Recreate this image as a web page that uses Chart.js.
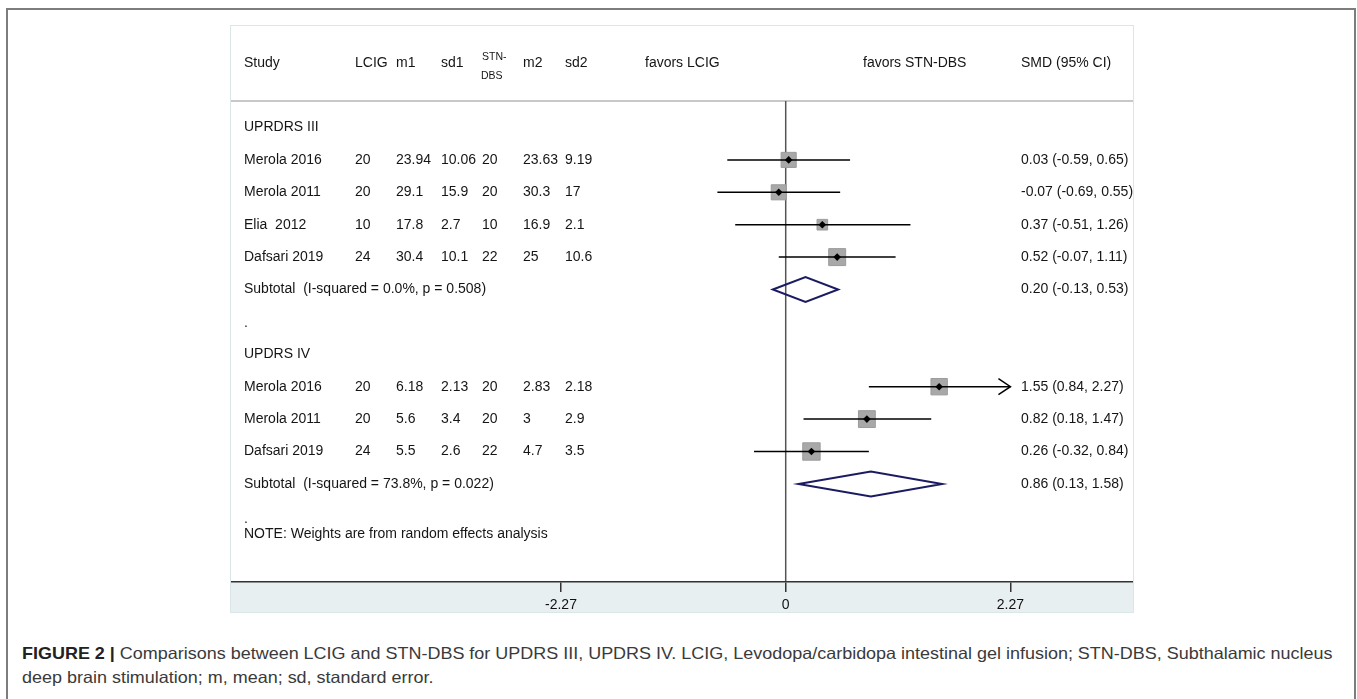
<!DOCTYPE html>
<html><head><meta charset="utf-8">
<script src="https://cdn.jsdelivr.net/npm/chart.js@4.4.1/dist/chart.umd.min.js"></script>
<style>
html,body{margin:0;padding:0;background:#fff;width:1357px;height:699px;overflow:hidden;}
#frame{position:absolute;left:6px;top:8px;width:1350px;height:760px;border:2px solid #7d7d7d;box-sizing:border-box;}
#panel{position:absolute;left:231px;top:26px;width:902px;height:586px;}
#panel canvas{position:absolute;left:0;top:0;}
#panelBorder{position:absolute;left:230px;top:25px;width:904px;height:588px;border:1px solid #dbe6e8;box-sizing:border-box;pointer-events:none}
#caption{position:absolute;left:22px;top:642px;font-family:"Liberation Sans",Arial,sans-serif;font-size:16.5px;line-height:23.5px;color:#3a3a3a;white-space:nowrap;transform-origin:0 0;}
#caption span{display:inline-block;}
#caption b{color:#222;}
</style></head>
<body>
<div id="frame"></div>
<div id="panel"><canvas id="c" width="902" height="586"></canvas></div>
<div id="panelBorder"></div>
<div id="caption"><span id="l1"><b>FIGURE 2 |</b> Comparisons between LCIG and STN-DBS for UPDRS III, UPDRS IV. LCIG, Levodopa/carbidopa intestinal gel infusion; STN-DBS, Subthalamic nucleus</span><br><span>deep brain stimulation; m, mean; sd, standard error.</span></div>
<script>
// ---- data ----
const headerLabels = ['Study', 'LCIG', 'm1', 'sd1', 'STN-DBS', 'm2', 'sd2'];
const favorLabels = ['favors LCIG', 'favors STN-DBS'];
const estHeader = 'SMD (95% CI)';
const groupNames = ['UPRDRS III', 'UPDRS IV'];
const groupRows = [0, 7];
const studyNames = ['Merola 2016', 'Merola 2011', 'Elia  2012', 'Dafsari 2019', 'Merola 2016', 'Merola 2011', 'Dafsari 2019'];
const studyRows = [1, 2, 3, 4, 8, 9, 10];
const n1 = ['20', '20', '10', '24', '20', '20', '24'];
const m1 = ['23.94', '29.1', '17.8', '30.4', '6.18', '5.6', '5.5'];
const sd1 = ['10.06', '15.9', '2.7', '10.1', '2.13', '3.4', '2.6'];
const n2 = ['20', '20', '10', '22', '20', '20', '22'];
const m2 = ['23.63', '30.3', '16.9', '25', '2.83', '3', '4.7'];
const sd2 = ['9.19', '17', '2.1', '10.6', '2.18', '2.9', '3.5'];
const smd = [0.03, -0.07, 0.37, 0.52, 1.55, 0.82, 0.26];
const ciLow = [-0.59, -0.69, -0.51, -0.07, 0.84, 0.18, -0.32];
const ciHigh = [0.65, 0.55, 1.26, 1.11, 2.27, 1.47, 0.84];
const weights = [26.6, 26.6, 13.2, 33.6, 31.4, 33.2, 35.4];
const subLabels = ['Subtotal  (I-squared = 0.0%, p = 0.508)', 'Subtotal  (I-squared = 73.8%, p = 0.022)'];
const subRows = [5, 11];
const subEst = [0.20, 0.86];
const subLow = [-0.13, 0.13];
const subHigh = [0.53, 1.58];
const spacerRows = [6.05, 12.1];
const noteText = 'NOTE: Weights are from random effects analysis';
const noteRow = 12.55;
const axisTicks = [-2.27, 0, 2.27];
const axisTickLabels = ['-2.27', '0', '2.27'];
const ciClip = 2.27;

// ---- scale ranges ----
const X_MIN = -5.603, X_MAX = 3.508;
const Y_MIN = -0.818, Y_MAX = 14.028;

const FONT = '"Liberation Sans", Arial, sans-serif';
const fmt = v => v.toFixed(2);

const forestPlugin = {
  id: 'forest',
  beforeDraw(chart) {
    const {ctx, chartArea: a, width, height} = chart;
    ctx.save();
    ctx.fillStyle = '#fff'; ctx.fillRect(0, 0, width, height);
    ctx.fillStyle = '#e8eff0'; ctx.fillRect(0, a.bottom, width, height - a.bottom);
    ctx.strokeStyle = '#c8c8c8'; ctx.lineWidth = 2;
    ctx.beginPath(); ctx.moveTo(0, a.top); ctx.lineTo(width, a.top); ctx.stroke();
    const x0 = chart.scales.x.getPixelForValue(0);
    ctx.strokeStyle = '#555'; ctx.lineWidth = 1.5;
    ctx.beginPath(); ctx.moveTo(x0, a.top); ctx.lineTo(x0, a.bottom); ctx.stroke();
    ctx.restore();
  },
  afterDatasetsDraw(chart) {
    const {ctx} = chart; const xs = chart.scales.x, ys = chart.scales.y;
    ctx.save();
    ctx.strokeStyle = '#1b1b62'; ctx.lineWidth = 2; ctx.lineJoin = 'miter';
    subRows.forEach((r, i) => {
      const y = ys.getPixelForValue(r), h = 12.5;
      const xl = xs.getPixelForValue(subLow[i]), xc = xs.getPixelForValue(subEst[i]), xh = xs.getPixelForValue(subHigh[i]);
      ctx.beginPath(); ctx.moveTo(xl, y); ctx.lineTo(xc, y - h); ctx.lineTo(xh, y); ctx.lineTo(xc, y + h); ctx.closePath(); ctx.stroke();
    });
    ctx.strokeStyle = '#000'; ctx.lineWidth = 1.5;
    studyRows.forEach((r, i) => {
      if (ciHigh[i] >= ciClip) {
        const y = ys.getPixelForValue(r), x = xs.getPixelForValue(ciClip);
        ctx.beginPath(); ctx.moveTo(x - 12, y - 8); ctx.lineTo(x, y); ctx.lineTo(x - 12, y + 8); ctx.stroke();
      }
    });
    ctx.restore();
  },
  afterDraw(chart) {
    const {ctx} = chart; const ys = chart.scales.y;
    const col = [13, 124, 165, 210, 251, 292, 334];
    const estX = 790, favX = [414, 632];
    ctx.save();
    ctx.fillStyle = '#151515'; ctx.textBaseline = 'middle'; ctx.textAlign = 'left';
    ctx.font = '14px ' + FONT;
    const hy = 36.7;
    headerLabels.forEach((t, i) => {
      if (t.indexOf('-') > 0) {
        const parts = t.split('-');
        ctx.font = '10.5px ' + FONT;
        ctx.fillText(parts[0] + '-', col[i], hy - 5.5);
        ctx.fillText(parts[1], col[i] - 1, hy + 13.5);
        ctx.font = '14px ' + FONT;
      } else ctx.fillText(t, col[i], hy);
    });
    favorLabels.forEach((t, i) => ctx.fillText(t, favX[i], hy));
    ctx.fillText(estHeader, estX, hy);
    groupNames.forEach((t, i) => ctx.fillText(t, col[0], ys.getPixelForValue(groupRows[i])));
    const cols = [studyNames, n1, m1, sd1, n2, m2, sd2];
    studyRows.forEach((r, i) => {
      const y = ys.getPixelForValue(r);
      cols.forEach((arr, c) => ctx.fillText(arr[i], col[c], y));
      ctx.fillText(fmt(smd[i]) + ' (' + fmt(ciLow[i]) + ', ' + fmt(ciHigh[i]) + ')', estX, y);
    });
    subRows.forEach((r, i) => {
      const y = ys.getPixelForValue(r);
      ctx.fillText(subLabels[i], col[0], y);
      ctx.fillText(fmt(subEst[i]) + ' (' + fmt(subLow[i]) + ', ' + fmt(subHigh[i]) + ')', estX, y);
    });
    spacerRows.forEach(r => ctx.fillText('.', col[0], ys.getPixelForValue(r)));
    ctx.fillText(noteText, col[0], ys.getPixelForValue(noteRow));
    ctx.restore();
  }
};

const ciSets = studyRows.map((r, i) => ({
  data: [{x: ciLow[i], y: r}, {x: ciHigh[i], y: r}],
  showLine: true, borderColor: '#000', borderWidth: 1.5, pointRadius: 0, order: 1
}));

new Chart(document.getElementById('c'), {
  type: 'scatter',
  data: {
    datasets: [
      {data: studyRows.map((r, i) => ({x: smd[i], y: r})), pointStyle: 'rectRot', pointRadius: 3.8,
       pointBackgroundColor: '#000', pointBorderColor: '#000', pointBorderWidth: 0, order: 0},
      ...ciSets,
      {data: studyRows.map((r, i) => ({x: smd[i], y: r})), pointStyle: 'rect',
       pointRadius: weights.map(w => Math.sqrt(w) * 2.07),
       pointBackgroundColor: '#a8a8a8', pointBorderColor: '#9c9c9c', pointBorderWidth: 1, order: 2}
    ]
  },
  options: {
    responsive: false, animation: false, events: [],
    layout: {autoPadding: false, padding: {top: 75, left: 0, right: 0, bottom: 0}},
    plugins: {legend: {display: false}, tooltip: {enabled: false}},
    scales: {
      x: {
        type: 'linear', min: X_MIN, max: X_MAX, position: 'bottom',
        afterBuildTicks: s => { s.ticks = axisTicks.map(v => ({value: v})); },
        afterFit: s => { s.height = 30; s.paddingLeft = 0; s.paddingRight = 0; },
        ticks: {callback: (v, i) => axisTickLabels[i], autoSkip: false, maxRotation: 0, padding: 5,
                color: '#111', font: {family: '"Liberation Sans Narrow", "Liberation Sans", Arial, sans-serif', size: 14}},
        grid: {display: true, drawOnChartArea: false, drawTicks: true, tickLength: 10, color: '#333', lineWidth: 1.5},
        border: {display: true, color: '#333', width: 1.5}
      },
      y: {type: 'linear', min: Y_MIN, max: Y_MAX, reverse: true, display: false}
    }
  },
  plugins: [forestPlugin]
});

function fitCaption() {
  const cap = document.getElementById('caption');
  const w = document.getElementById('l1').offsetWidth;
  if (w > 0) cap.style.transform = 'scaleX(' + (1311 / w) + ')';
}
fitCaption();
if (document.fonts && document.fonts.ready) document.fonts.ready.then(fitCaption);
</script>
</body></html>
